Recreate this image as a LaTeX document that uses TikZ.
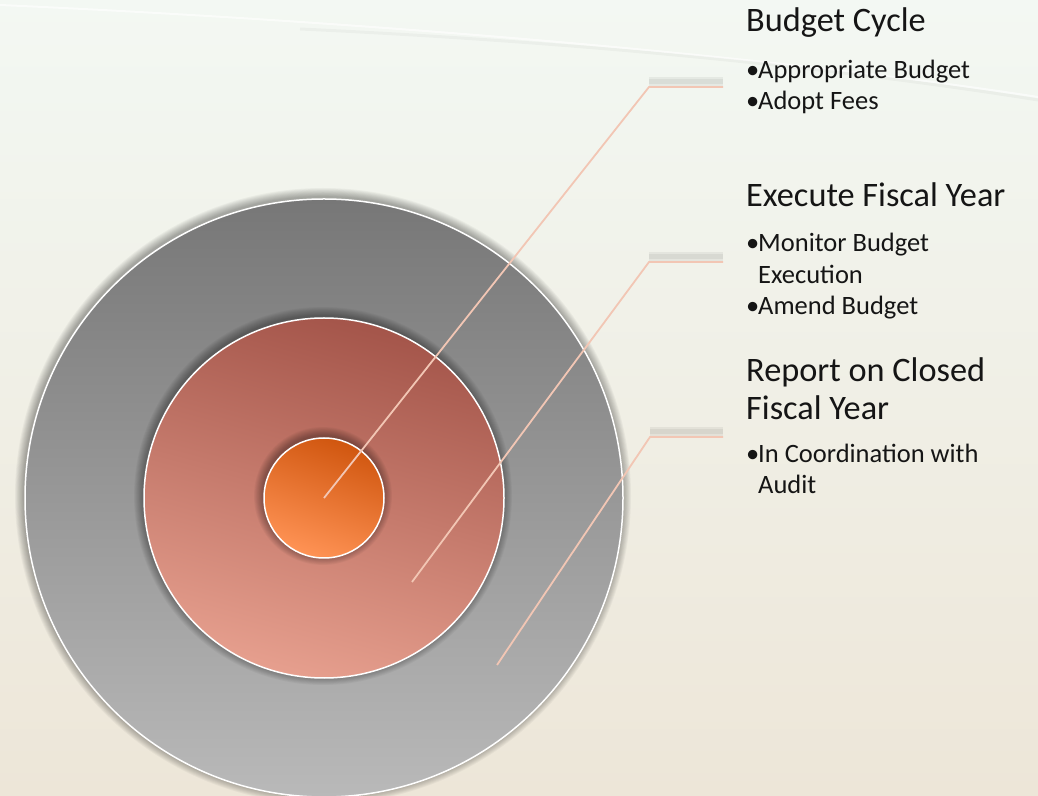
\documentclass[tikz,border=0pt]{standalone}
\usepackage{fontspec}
\setmainfont{Carlito}
\usetikzlibrary{calc}

\definecolor{bgtop}{HTML}{F3F8F3}
\definecolor{bgbot}{HTML}{EDE6D8}
\definecolor{grayhi}{HTML}{777777}
\definecolor{graylo}{HTML}{B9B9B9}
\definecolor{rusthi}{HTML}{A4554A}
\definecolor{rustlo}{HTML}{E69F8E}
\definecolor{corehi}{HTML}{D0560F}
\definecolor{corelo}{HTML}{FF9355}
\definecolor{leadc}{HTML}{F2C6B4}
\definecolor{inkc}{HTML}{151515}

% bullet box and hanging indent for the item lists
\newcommand\bitem{\makebox[12pt][l]{\textbullet}}
\newcommand\bcont{\hspace*{12pt}}

\begin{document}
\begin{tikzpicture}[x=1pt, y=1pt,
	ring/.style={circle, draw=white, line width=1.5pt, inner sep=0pt},
	leader/.style={draw=leadc, line width=1.8pt},
	ledge/.style={draw=black, opacity=0.05, line width=#1},
	heading/.style={anchor=base west, inner sep=0pt, font=\fontsize{34.3}{38}\selectfont, text=inkc},
	items/.style={anchor=base west, inner sep=0pt, align=left, font=\fontsize{26.5}{31.5}\selectfont, text=inkc}
]
	% Background
	\useasboundingbox (0,0) rectangle (1038,795);
	\shade[top color=bgtop, bottom color=bgbot] (0,0) rectangle (1038,795);
	\draw[white, line width=2pt, opacity=0.6] (0,790) .. controls (400,772) and (800,735) .. (1038,698);
	\draw[black, line width=3pt, opacity=0.03] (300,766) .. controls (600,752) and (850,725) .. (1038,695);

	\coordinate (hub) at (324,297);

	% Rings, each with a soft shadow underneath
	\foreach \r in {299,180,60} {
		\foreach \k in {1,...,10}
			\fill[black, opacity=0.035] ($(hub)+(-1,2)$) circle ({\r+\k*0.9});
		\ifnum\r=299
			\node[ring, minimum size=598pt, top color=grayhi, bottom color=graylo] (outer) at (hub) {};
		\fi
		\ifnum\r=180
			\node[ring, minimum size=360pt, top color=rusthi, bottom color=rustlo, shading angle=-15] (middle) at (hub) {};
		\fi
		\ifnum\r=60
			\node[ring, minimum size=120pt, top color=corehi, bottom color=corelo, shading angle=-20] (core) at (hub) {};
		\fi
	}

	% Texts (multi-line nodes sit on their last baseline)
	\node[heading] (cycle) at (746,763) {Budget Cycle};
	\node[items] (cycleitems) at (746,685) {\bitem Appropriate Budget\\ \bitem Adopt Fees};
	\node[heading] (execute) at (746,588) {Execute Fiscal Year};
	\node[items] (executeitems) at (746,480) {\bitem Monitor Budget\\ \bcont Execution\\ \bitem Amend Budget};
	\node[heading, align=left] (report) at (746,375) {Report on Closed\\Fiscal Year};
	\node[items] (reportitems) at (746,301) {\bitem In Coordination with\\ \bcont Audit};

	% Leader lines
	\coordinate (s1) at (core.center);
	\coordinate (k1) at (649,708);
	\coordinate (e1) at (723,708);
	\coordinate (s2) at (412,213);
	\coordinate (k2) at (649,533);
	\coordinate (e2) at (723,533);
	\coordinate (s3) at (497,130);
	\coordinate (k3) at (650,358);
	\coordinate (e3) at (723,358);
	\foreach \i in {1,2,3} {
		\draw[ledge=9pt] ([yshift=5pt]k\i) -- ([yshift=5pt]e\i);
		\draw[ledge=5pt] ([yshift=5pt]k\i) -- ([yshift=5pt]e\i);
		\draw[leader] (s\i) -- (k\i) -- (e\i);
	}
\end{tikzpicture}
\end{document}
